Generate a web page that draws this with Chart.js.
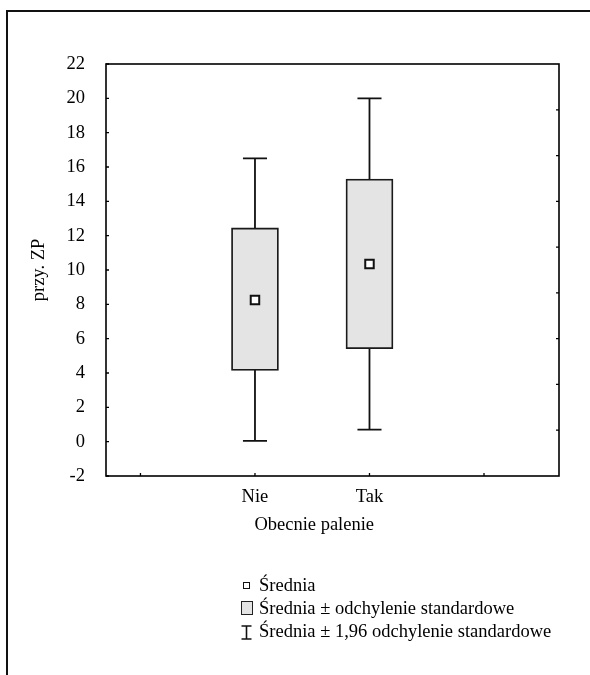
<!DOCTYPE html>
<html>
<head>
<meta charset="utf-8">
<script src="https://cdn.jsdelivr.net/npm/chart.js@4"></script>
<style>
  html, body { margin:0; padding:0; background:#fff; }
  body { width:590px; height:675px; position:relative; overflow:hidden; }
  #frame { position:absolute; left:6px; top:10px; width:700px; height:700px;
           border-top:2px solid #111; border-left:2px solid #111; }
  #c { position:absolute; left:0; top:0; }
  #legend { position:absolute; left:240px; top:574px; font:18.5px "Liberation Serif", serif; color:#000; }
  .row { position:relative; height:23px; line-height:23px; white-space:nowrap; }
  .row .txt { position:absolute; left:19px; top:0; }
  .ic { position:absolute; box-sizing:border-box; }
</style>
</head>
<body>
<div id="frame"></div>
<canvas id="c" width="590" height="675"></canvas>
<div id="legend">
  <div class="row"><span class="ic" style="left:3px;top:8px;width:7px;height:7px;border:1.6px solid #111;background:#fff"></span><span class="txt">Średnia</span></div>
  <div class="row"><span class="ic" style="left:0.5px;top:3.5px;width:12px;height:14.5px;border:1.4px solid #222;background:#e4e4e4"></span><span class="txt">Średnia ± odchylenie standardowe</span></div>
  <div class="row"><svg class="ic" style="left:0;top:5px" width="13" height="15" viewBox="0 0 13 15"><path d="M1.5 1 H11.5 M6.5 1 V14 M1.5 14 H11.5" stroke="#111" stroke-width="1.6" fill="none"/></svg><span class="txt">Średnia ± 1,96 odchylenie standardowe</span></div>
</div>
<script>
// ---- data ----
const categories   = ['Nie', 'Tak'];
const means        = [8.25, 10.35];
const boxLow       = [4.15, 5.42];   // mean - SD
const boxHigh      = [12.45, 15.3];  // mean + SD
const whiskerLow   = [0.05, 0.7];    // mean - 1.96 SD
const whiskerHigh  = [16.5, 20.0];   // mean + 1.96 SD
const xTickValues  = [0, 1, 2, 3];
const rightTickValues = [1, 2, 3, 4, 5, 6, 7, 8];
const yTitle = 'przy. ZP';
const xTitle = 'Obecnie palenie';

// ---- build datasets ----
const catX = categories.map((_, i) => i + 1);
const CAP = 0.105; // half cap width in x units (style)

const boxData = catX.map((x, i) => ({ x: x, y: [boxLow[i], boxHigh[i]] }));
const meanData = catX.map((x, i) => ({ x: x, y: means[i] }));
const whiskerData = [];
const capData = [];
catX.forEach((x, i) => {
  whiskerData.push({ x: x, y: whiskerLow[i] }, { x: x, y: whiskerHigh[i] }, { x: x, y: null });
  capData.push({ x: x - CAP, y: whiskerHigh[i] }, { x: x + CAP, y: whiskerHigh[i] }, { x: x, y: null });
  capData.push({ x: x - CAP, y: whiskerLow[i] }, { x: x + CAP, y: whiskerLow[i] }, { x: x, y: null });
});

Chart.defaults.font.family = '"Liberation Serif", serif';
Chart.defaults.font.size = 18.5;
Chart.defaults.color = '#000';

const framePlugin = {
  id: 'framePlugin',
  afterDraw(chart) {
    const { ctx, chartArea: a, scales } = chart;
    ctx.save();
    ctx.strokeStyle = '#000';
    ctx.lineWidth = 1.6;
    ctx.strokeRect(a.left, a.top, a.right - a.left, a.bottom - a.top);
    ctx.lineWidth = 1.3;
    ctx.beginPath();
    scales.y.ticks.forEach(t => {
      const py = scales.y.getPixelForValue(t.value);
      ctx.moveTo(a.left, py); ctx.lineTo(a.left + 3, py);
    });
    scales.x.ticks.forEach(t => {
      const px = scales.x.getPixelForValue(t.value);
      ctx.moveTo(px, a.bottom); ctx.lineTo(px, a.bottom - 3);
    });
    scales.y2.ticks.forEach(t => {
      const py = scales.y2.getPixelForValue(t.value);
      ctx.moveTo(a.right, py); ctx.lineTo(a.right - 3, py);
    });
    ctx.stroke();
    // x axis title centred between the categories
    const mid = (scales.x.getPixelForValue(catX[0]) + scales.x.getPixelForValue(catX[catX.length - 1])) / 2;
    ctx.fillStyle = '#000';
    ctx.font = '18.5px "Liberation Serif", serif';
    ctx.textAlign = 'center';
    ctx.textBaseline = 'alphabetic';
    ctx.fillText(xTitle, mid + 2, 530);
    ctx.restore();
  }
};

new Chart(document.getElementById('c'), {
  type: 'bar',
  data: {
    datasets: [
      { type: 'line', data: whiskerData, borderColor: '#111', borderWidth: 1.8,
        pointRadius: 0, spanGaps: false, order: 3 },
      { type: 'line', data: capData, borderColor: '#111', borderWidth: 1.8,
        pointRadius: 0, spanGaps: false, order: 3 },
      { type: 'bar', data: boxData, backgroundColor: '#e4e4e4', borderColor: '#1a1a1a',
        borderWidth: 1.8, borderSkipped: false, barThickness: 47, order: 2 },
      { type: 'line', data: meanData, showLine: false, pointStyle: 'rect', pointRadius: 6,
        pointBackgroundColor: '#fff', pointBorderColor: '#111', pointBorderWidth: 2, order: 1 }
    ]
  },
  options: {
    responsive: false,
    animation: false,
    events: [],
    layout: { padding: { top: 64, right: 31, bottom: 0, left: 0 } },
    plugins: { legend: { display: false }, tooltip: { enabled: false } },
    scales: {
      x: {
        type: 'linear', position: 'bottom', min: -0.301, max: 3.655, offset: false,
        grid: { display: false, drawTicks: false }, border: { display: false },
        afterBuildTicks: s => { s.ticks = xTickValues.map(v => ({ value: v })); },
        ticks: { autoSkip: false, maxRotation: 0, padding: 10, color: '#000',
                 callback: v => categories[v - 1] !== undefined ? categories[v - 1] : '' },
        afterFit: s => { s.height = 199; }
      },
      y: {
        type: 'linear', position: 'left', min: -2, max: 22,
        grid: { display: false, drawTicks: false }, border: { display: false },
        ticks: { stepSize: 2, padding: 21, color: '#000' },
        title: { display: true, text: yTitle, padding: { top: 28 }, color: '#000',
                 font: { size: 18.5 } },
        afterFit: s => { s.width = 106; }
      },
      y2: {
        type: 'linear', position: 'right', min: 0, max: 9, display: false,
        afterBuildTicks: s => { s.ticks = rightTickValues.map(v => ({ value: v })); }
      }
    }
  },
  plugins: [framePlugin]
});
</script>
</body>
</html>
